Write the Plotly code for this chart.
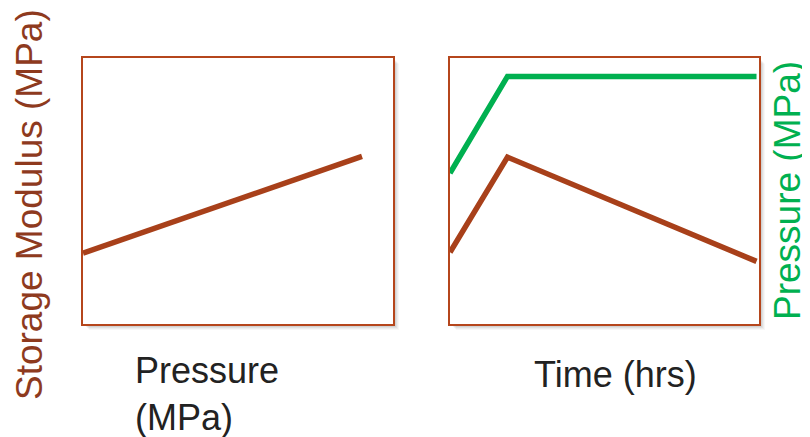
import plotly.graph_objects as go

# ---- data (arbitrary units) ----
left_pressure = [0.0, 9.0]
left_modulus = [2.66, 6.29]

time_hrs = [0.0, 1.86, 9.92]
modulus_vs_time = [2.69, 6.26, 2.35]
pressure_vs_time = [5.66, 9.29, 9.29]

OFF = 8  # default page margin of the html body
W, H = 810 - OFF, 437 - OFF
BROWN_LINE = "#a8401a"
BROWN_BOX = "#b5461c"
BROWN_TEXT = "#8e3a1e"
GREEN = "#00b050"
FONT = "Liberation Sans, Arial, sans-serif"


def fx(p):
    return (p - OFF) / W


def fy(p):
    return 1 - (p - OFF) / H


fig = go.Figure()
fig.add_trace(go.Scatter(x=left_pressure, y=left_modulus, mode="lines",
                         line=dict(color=BROWN_LINE, width=5.5), xaxis="x", yaxis="y",
                         showlegend=False, hoverinfo="skip"))
fig.add_trace(go.Scatter(x=time_hrs, y=modulus_vs_time, mode="lines",
                         line=dict(color=BROWN_LINE, width=5.5), xaxis="x2", yaxis="y2",
                         showlegend=False, hoverinfo="skip"))
fig.add_trace(go.Scatter(x=time_hrs, y=pressure_vs_time, mode="lines",
                         line=dict(color=GREEN, width=5.5), xaxis="x2", yaxis="y3",
                         showlegend=False, hoverinfo="skip"))

ax_common = dict(range=[0, 10], showticklabels=False, ticks="", showgrid=False,
                 zeroline=False, showline=True, mirror=True, linecolor=BROWN_BOX,
                 linewidth=2, fixedrange=True)

ydom = [fy(324), fy(57.5)]
fig.update_layout(
    width=W, height=H,
    margin=dict(l=0, r=0, t=0, b=0),
    paper_bgcolor="white", plot_bgcolor="rgba(0,0,0,0)",
    xaxis=dict(domain=[fx(83), fx(393)], anchor="y", **ax_common),
    yaxis=dict(domain=ydom, anchor="x", **ax_common),
    xaxis2=dict(domain=[fx(450), fx(759)], anchor="y2", **ax_common),
    yaxis2=dict(domain=ydom, anchor="x2", **ax_common),
    yaxis3=dict(overlaying="y2", side="right", range=[0, 10], visible=False,
                fixedrange=True),
    font=dict(family=FONT),
)

# soft drop shadows under the boxes, then white box fills on top of them
shapes = []
boxes = [(83, 393), (450, 759)]
for (x0, x1) in boxes:
    for off, alpha in [(6, 0.03), (5, 0.04), (4, 0.05), (3, 0.06)]:
        shapes.append(dict(type="rect", xref="paper", yref="paper", layer="below",
                           x0=fx(x0 + off), x1=fx(x1 + off), y0=fy(324 + off), y1=fy(57.5 + off),
                           line=dict(width=0), fillcolor=f"rgba(0,0,0,{alpha})"))
for (x0, x1) in boxes:
    shapes.append(dict(type="rect", xref="paper", yref="paper", layer="below",
                       x0=fx(x0), x1=fx(x1), y0=fy(324), y1=fy(57.5),
                       line=dict(width=0), fillcolor="white"))
fig.update_layout(shapes=shapes)

annotations = [
    dict(text="Storage Modulus (MPa)", x=fx(29), y=fy(205), xref="paper", yref="paper",
         textangle=-90, showarrow=False, xanchor="center", yanchor="middle",
         font=dict(size=37, color=BROWN_TEXT, family=FONT)),
    dict(text="Pressure (MPa)", x=fx(787), y=fy(191), xref="paper", yref="paper",
         textangle=-90, showarrow=False, xanchor="center", yanchor="middle",
         font=dict(size=37, color=GREEN, family=FONT)),
    dict(text="Pressure<br>(MPa)", x=fx(133), y=fy(394), xref="paper", yref="paper",
         showarrow=False, xanchor="left", yanchor="middle", align="left",
         font=dict(size=36, color="#222222", family=FONT)),
    dict(text="Time (hrs)", x=fx(615), y=fy(374), xref="paper", yref="paper",
         showarrow=False, xanchor="center", yanchor="middle",
         font=dict(size=36, color="#222222", family=FONT)),
]
fig.update_layout(annotations=annotations)

fig.write_html("out.html", config={"displayModeBar": False})
